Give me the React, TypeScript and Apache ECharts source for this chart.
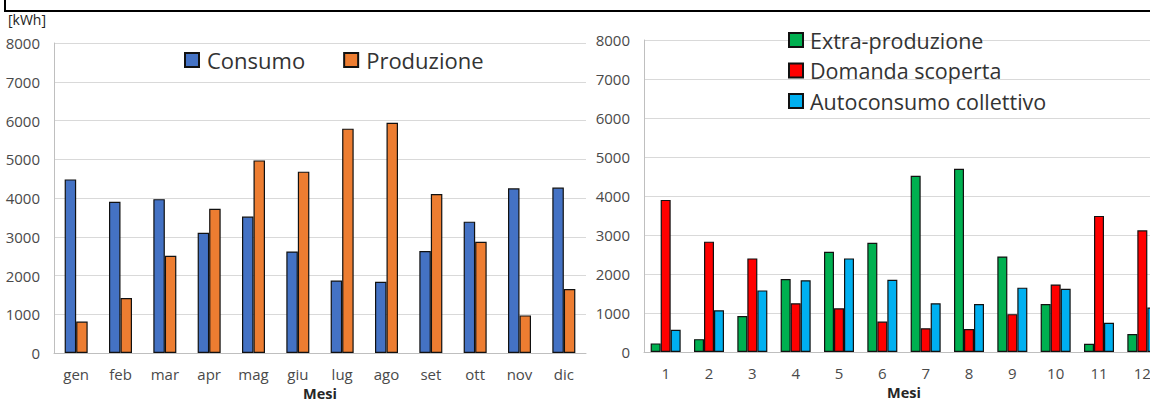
import React, { useEffect, useRef } from "react";
import * as echarts from "echarts";

// Monthly energy balance [kWh]
const months = ["gen", "feb", "mar", "apr", "mag", "giu", "lug", "ago", "set", "ott", "nov", "dic"];
const consumo = [4480, 3900, 3970, 3100, 3520, 2620, 1870, 1840, 2630, 3390, 4250, 4270];
const produzione = [810, 1420, 2510, 3720, 4970, 4680, 5790, 5940, 4100, 2870, 970, 1650];

const monthNumbers = ["1", "2", "3", "4", "5", "6", "7", "8", "9", "10", "11", "12"];
const extraProduzione = [220, 330, 920, 1870, 2570, 2800, 4520, 4700, 2450, 1230, 210, 460];
const domandaScoperta = [3900, 2830, 2400, 1250, 1120, 780, 610, 590, 970, 1730, 3490, 3120];
const autoconsumoCollettivo = [570, 1070, 1580, 1840, 2400, 1850, 1250, 1230, 1650, 1620, 750, 1140];

const yMin = 0;
const yMax = 8000;
const yStep = 1000;

const FONT = "'Open Sans', 'Noto Sans', sans-serif";
const GRID_COLOR = "#d9d9d9";
const AXIS_COLOR = "#bfbfbf";
const LABEL_COLOR = "#4a4a4a";
const TEXT_COLOR = "#333333";

function valueAxis(gridIndex: number) {
  return {
    type: "value" as const,
    gridIndex,
    min: yMin,
    max: yMax,
    interval: yStep,
    axisLine: { show: true, lineStyle: { color: AXIS_COLOR, width: 1 } },
    axisTick: { show: false },
    splitLine: { show: true, lineStyle: { color: GRID_COLOR, width: 1 } },
    axisLabel: {
      color: LABEL_COLOR,
      fontSize: 15,
      fontFamily: FONT,
      margin: 14,
      formatter: (v: number) => String(v),
    },
  };
}

function categoryAxis(gridIndex: number, data: string[]) {
  return {
    type: "category" as const,
    gridIndex,
    data,
    name: "Mesi",
    nameLocation: "middle" as const,
    nameGap: 29,
    nameTextStyle: {
      color: "#262626",
      fontSize: 14.5,
      lineHeight: 14,
      fontWeight: "bold" as const,
      fontFamily: FONT,
    },
    axisLine: { show: true, lineStyle: { color: AXIS_COLOR, width: 1 } },
    axisTick: { show: false },
    axisLabel: { color: LABEL_COLOR, fontSize: 15, fontFamily: FONT, margin: 13 },
  };
}

function barSeries(name: string, data: number[], color: string, axisIndex: number, width: number) {
  return {
    type: "bar" as const,
    name,
    data,
    xAxisIndex: axisIndex,
    yAxisIndex: axisIndex,
    barWidth: width,
    barGap: "0%",
    itemStyle: { color, borderColor: "#111111", borderWidth: 1.2 },
  };
}

export default function App() {
  const ref = useRef<HTMLDivElement>(null);

  useEffect(() => {
    if (!ref.current) return;
    const chart = echarts.init(ref.current, undefined, { renderer: "svg" });
    chart.setOption({
      animation: false,
      backgroundColor: "#ffffff",
      grid: [
        { left: 54, top: 43, width: 532, height: 310, containLabel: false, outerBoundsMode: "none" },
        { left: 644, top: 40, width: 520, height: 312, containLabel: false, outerBoundsMode: "none" },
      ],
      legend: [
        {
          data: ["Consumo", "Produzione"],
          left: 184,
          top: 48,
          padding: 0,
          orient: "horizontal",
          icon: "rect",
          itemWidth: 14,
          itemHeight: 14,
          itemGap: 38,
          textStyle: { color: TEXT_COLOR, fontSize: 22, fontFamily: FONT, lineHeight: 24, padding: [0, 0, 0, 3] },
        },
        {
          data: ["Extra-produzione", "Domanda scoperta", "Autoconsumo collettivo"],
          left: 788,
          top: 28,
          padding: 0,
          orient: "vertical",
          icon: "rect",
          itemWidth: 14,
          itemHeight: 14,
          itemGap: 6.5,
          textStyle: { color: TEXT_COLOR, fontSize: 21.5, fontFamily: FONT, lineHeight: 24, padding: [0, 0, 0, 2] },
        },
      ],
      xAxis: [categoryAxis(0, months), categoryAxis(1, monthNumbers)],
      yAxis: [valueAxis(0), valueAxis(1)],
      series: [
        barSeries("Consumo", consumo, "#4472C4", 0, 11.5),
        barSeries("Produzione", produzione, "#ED7D31", 0, 11.5),
        barSeries("Extra-produzione", extraProduzione, "#00B050", 1, 10),
        barSeries("Domanda scoperta", domandaScoperta, "#FF0000", 1, 10),
        barSeries("Autoconsumo collettivo", autoconsumoCollettivo, "#00B0F0", 1, 10),
      ],
      graphic: [
        {
          type: "line",
          shape: { x1: 5, y1: 0, x2: 5, y2: 11 },
          style: { stroke: "#000000", lineWidth: 2 },
        },
        {
          type: "line",
          shape: { x1: 4, y1: 11, x2: 1170, y2: 11 },
          style: { stroke: "#000000", lineWidth: 2 },
        },
        {
          type: "text",
          x: 8,
          y: 12,
          style: { text: "[kWh]", fill: "#222222", fontSize: 14, fontFamily: FONT },
        },
      ],
    });
    return () => chart.dispose();
  }, []);

  return (
    <div style={{ position: "absolute", left: 0, top: 0, width: 1150, height: 400, overflow: "hidden", background: "#fff" }}>
      <div ref={ref} style={{ width: 1170, height: 400 }} />
    </div>
  );
}
